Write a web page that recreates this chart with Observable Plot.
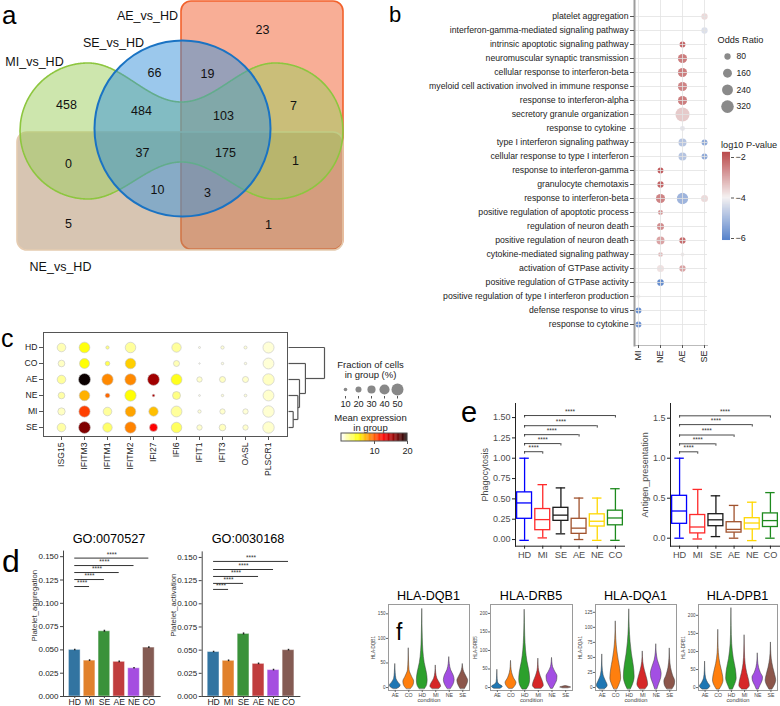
<!DOCTYPE html>
<html><head><meta charset="utf-8">
<script src="https://cdn.jsdelivr.net/npm/d3@7"></script>
<script src="https://cdn.jsdelivr.net/npm/@observablehq/plot@0.6"></script>
<style>
body{margin:0;background:#fff;}
#root{position:relative;width:780px;height:706px;overflow:hidden;background:#fff;font-family:"Liberation Sans",Arial,Helvetica,sans-serif;}
</style></head><body><div id="root"></div>
<script>
// ---------------- DATA ----------------
// a: Venn
const vennSets = ["AE_vs_HD","SE_vs_HD","MI_vs_HD","NE_vs_HD"];
const vennCounts = [23,458,66,19,484,103,7,0,37,175,1,10,3,5,1];
// b: GO enrichment dot plot
const bTerms = ["platelet aggregation","interferon-gamma-mediated signaling pathway","intrinsic apoptotic signaling pathway","neuromuscular synaptic transmission","cellular response to interferon-beta","myeloid cell activation involved in immune response","response to interferon-alpha","secretory granule organization","response to cytokine ","type I interferon signaling pathway","cellular response to type I interferon","response to interferon-gamma","granulocyte chemotaxis","response to interferon-beta","positive regulation of apoptotic process","regulation of neuron death","positive regulation of neuron death","cytokine-mediated signaling pathway","activation of GTPase activity","positive regulation of GTPase activity","positive regulation of type I interferon production","defense response to virus","response to cytokine"];
const bCols = ["MI","NE","AE","SE"];
const bDotRow = [0,1,2,3,4,5,6,7,8,9,9,10,10,11,12,13,13,13,14,15,16,16,17,17,18,18,19,20,21,22];
const bDotCol = ["SE","SE","AE","AE","AE","AE","AE","AE","AE","AE","SE","AE","SE","NE","NE","NE","AE","SE","NE","NE","NE","AE","NE","AE","NE","AE","NE","MI","MI","MI"];
const bDotOddsRatio = [80,80,70,170,170,170,170,400,50,130,70,130,70,70,80,170,260,100,50,100,130,80,45,30,100,80,90,30,70,70];
const bDotLog10P = [-3.7,-4.3,-2.2,-2.5,-2.5,-2.6,-2.5,-3.5,-4.2,-4.8,-5.3,-4.8,-5.3,-2.1,-2.2,-2.6,-5.1,-3.7,-2.8,-2.7,-3.0,-2.3,-3.3,-3.9,-3.8,-3.0,-5.8,-4.0,-5.8,-5.7];
const bOddsLegend = [80,160,240,320];
// c: gene dot plot
const cGroups = ["HD","CO","AE","NE","MI","SE"];
const cGenes = ["ISG15","IFITM3","IFITM1","IFITM2","IFI27","IFI6","IFIT1","IFIT3","OASL","PLSCR1"];
const cFraction = [
  [32,43,9,42,0,36,4.5,9,8,45],
  [23,39,14,42,0,20,3,6,6,44],
  [32,50,46,46,49,44,17,20,20,47],
  [23,42,14,46,6,29,4,6,7,44],
  [26,46,32,42,36,44,9,17,17,47],
  [32,49,36,46,29,42,17,23,17,47]];
const cExpression = [
  [1.5,4.8,2.5,2.0,0,2.0,0.5,0.8,0.8,0.8],
  [1.2,5.0,3.5,6.5,0,1.5,0.3,0.6,0.6,0.8],
  [2.0,20,8.6,8.6,15.5,4.5,1.0,1.2,1.0,1.2],
  [1.8,7.4,9.6,5.0,15,2.5,0.4,0.8,0.8,1.0],
  [1.2,10.8,2.0,7.8,7.0,2.0,0.8,1.0,0.8,0.9],
  [1.8,16.5,3.0,8.8,12.7,3.2,1.0,1.3,1.0,1.0]];
const cDendroMerges = [["MI","SE",0.26],["NE",0,0.52],["AE",1,0.61],["CO",2,0.94],["HD",3,2.0]];
const cSizeLegend = [10,20,30,40,50];
const cColorTicks = [10,20];
// d: bar plots
const dGroups = ["HD","MI","SE","AE","NE","CO"];
const dAggregation = [0.0500,0.0385,0.0700,0.0372,0.0303,0.0525];
const dAggregationErr = [0.0008,0.0009,0.0011,0.0009,0.0009,0.0009];
const dActivation = [0.0480,0.0385,0.0675,0.0352,0.0285,0.0500];
const dActivationErr = [0.0008,0.0009,0.0011,0.0009,0.0009,0.0009];
const dAggregationSig = [0.1180,0.1255,0.1330,0.1405,0.1485];
const dActivationSig = [0.1155,0.1220,0.1295,0.1370,0.1457];
const dTicks = [0,0.025,0.05,0.075,0.1,0.125,0.15];
// e: box plots
const eGroups = ["HD","MI","SE","AE","NE","CO"];
const ePhagoLow  = [-0.01,0.02,0.07,0.00,-0.01,-0.01];
const ePhagoQ1   = [0.255,0.115,0.23,0.07,0.16,0.175];
const ePhagoMed  = [0.45,0.245,0.30,0.14,0.225,0.265];
const ePhagoQ3   = [0.58,0.375,0.39,0.255,0.31,0.355];
const ePhagoHigh = [1.00,0.675,0.635,0.51,0.51,0.625];
const eAntiLow  = [0.00,-0.01,0.02,0.00,-0.03,0.00];
const eAntiQ1   = [0.18,0.06,0.15,0.07,0.11,0.14];
const eAntiMed  = [0.34,0.14,0.23,0.11,0.19,0.22];
const eAntiQ3   = [0.53,0.29,0.30,0.20,0.25,0.31];
const eAntiHigh = [1.00,0.61,0.53,0.41,0.45,0.57];
const ePhagoSig = [1.08,1.18,1.29,1.40,1.525];
const eAntiSig = [1.08,1.18,1.29,1.42,1.53];
const ePhagoTicks = [0,0.25,0.5,0.75,1,1.25,1.5];
const eAntiTicks = [0,0.5,1,1.5];
// f: violins  ([value, relative half-width] profiles)
const fGenes = ["HLA-DQB1","HLA-DRB5","HLA-DQA1","HLA-DPB1"];
const fConds = ["AE","CO","HD","MI","NE","SE"];
const violinDQB1 = [
 [[-3,0.3],[0,0.8],[4,1],[10,0.6],[18,0.2],[30,0.08],[48,0]],
 [[-3,0.4],[5,0.9],[12,1],[22,0.6],[35,0.15],[55,0.05],[80,0]],
 [[-3,0.5],[5,0.9],[15,1],[30,0.85],[50,0.45],[75,0.2],[100,0.1],[130,0.04],[160,0]],
 [[-3,0.6],[2,1],[8,0.8],[18,0.3],[30,0.08],[45,0]],
 [[-3,0.3],[5,0.75],[15,1],[25,0.8],[35,0.35],[48,0.1],[62,0]],
 [[-3,0.4],[5,0.8],[14,1],[22,0.7],[32,0.25],[40,0.08],[48,0]]];
const violinDRB5 = [
 [[-3,0.6],[2,1],[8,0.4],[15,0.12],[30,0.04],[48,0]],
 [[-3,0.4],[4,0.8],[12,1],[25,0.55],[40,0.2],[55,0.06],[72,0]],
 [[-5,0.4],[5,0.8],[20,1],[40,0.9],[70,0.5],[100,0.25],[140,0.1],[175,0.04],[210,0]],
 [[-3,0.6],[5,1],[15,0.85],[30,0.45],[45,0.15],[60,0.05],[78,0]],
 [[-3,0.2],[5,0.5],[20,0.95],[30,1],[42,0.6],[55,0.2],[68,0.06],[80,0]],
 [[-2,0.5],[0,1],[2,0.6],[4,0]]];
const violinDQA1 = [
 [[-3,0.5],[3,1],[10,0.7],[20,0.25],[35,0.06],[55,0]],
 [[-3,0.3],[5,0.7],[15,1],[30,0.85],[45,0.55],[60,0.3],[80,0.1],[110,0]],
 [[-3,0.3],[5,0.7],[18,1],[35,0.85],[55,0.5],[75,0.25],[100,0.08],[130,0]],
 [[-3,0.5],[5,1],[15,0.8],[28,0.4],[42,0.1],[60,0]],
 [[-3,0.2],[5,0.5],[15,0.9],[23,1],[33,0.75],[45,0.3],[58,0.08],[72,0]],
 [[-3,0.5],[5,0.95],[10,1],[20,0.6],[32,0.25],[48,0.06],[65,0]]];
const violinDPB1 = [
 [[-5,0.5],[3,1],[12,0.6],[25,0.2],[45,0.05],[72,0]],
 [[-5,0.3],[5,0.7],[20,1],[40,0.8],[65,0.4],[95,0.12],[125,0.04],[160,0]],
 [[-5,0.3],[5,0.6],[25,1],[50,0.85],[80,0.45],[120,0.15],[170,0.04],[220,0]],
 [[-5,0.5],[5,1],[20,0.85],[40,0.5],[65,0.2],[100,0.06],[145,0]],
 [[-5,0.2],[5,0.5],[20,0.95],[28,1],[40,0.6],[55,0.25],[75,0.06],[95,0]],
 [[-5,0.3],[5,0.7],[20,1],[35,0.8],[55,0.45],[80,0.15],[105,0.04],[125,0]]];
const fTicksDQB1 = [0,50,100,150], fTicksDRB5 = [0,50,100,150,200], fTicksDQA1 = [0,25,50,75,100,125], fTicksDPB1 = [0,50,100,150,200];

// ---------------- STYLE / LAYOUT ----------------
const FONT = "'Liberation Sans', Arial, Helvetica, sans-serif";
const root = document.getElementById("root");
function put(svg, left, top) {
  Object.assign(svg.style, {position:"absolute", left:left+"px", top:top+"px", overflow:"visible", background:"transparent", maxWidth:"none"});
  root.appendChild(svg); return svg;
}
function txt(s, x, y, size, anchor="start", color="#000") {
  const d = document.createElement("div");
  d.textContent = s;
  Object.assign(d.style, {position:"absolute", left:x+"px", top:(y-0.8465*size)+"px", fontSize:size+"px", lineHeight:"1", whiteSpace:"nowrap", color, fontFamily:FONT});
  if (anchor === "middle") d.style.transform = "translateX(-50%)";
  if (anchor === "end") d.style.transform = "translateX(-100%)";
  root.appendChild(d);
}
const base = {style:{fontFamily:FONT, background:"transparent", overflow:"visible", color:"#222"}};
const px = (w, h) => ({x:{domain:[0,w], range:[0,w], axis:null}, y:{domain:[0,h], range:[0,h], axis:null}});

// ---------------- PANEL a ----------------
const vennAE = {x1:181, x2:343, y1:1, y2:249};
const vennNE = {x1:17, x2:343, y1:132, y2:250};
const vennSE = {cx:182, cy:128, r:88};
const lobeMI = {cxL:88, cxR:275, cy:131, r:68, waistTop:102, waistBot:162};
const vennCountPos = [[262,29],[66,104],[154,72],[207,73],[141,110],[223,115],[293,105],[68,163],[142,152],[225,152],[295,160],[157,189],[207,192],[68,223],[268,224]];
const vennSetPos = [[147,15],[113,42],[34,61],[60,266]];
function miEdge(x) {
  const {cxL, cxR, cy, r, waistTop, waistBot} = lobeMI;
  if (x <= cxL || x >= cxR) {
    const c = x <= cxL ? cxL : cxR;
    const dy = Math.sqrt(Math.max(0, r*r - (x-c)*(x-c)));
    return {top: cy-dy, bot: cy+dy};
  }
  const s = Math.sin(Math.PI*(x-cxL)/(cxR-cxL))**2;
  return {top: cy - r + (waistTop-(cy-r))*s, bot: cy + r - ((cy+r)-waistBot)*s};
}
const miPts = [];
for (let x = lobeMI.cxL - lobeMI.r; x <= lobeMI.cxR + lobeMI.r + 1e-9; x += 0.5) miPts.push({x, ...miEdge(x)});
put(Plot.plot({...base, width:350, height:275, margin:0, ...px(350,275),
  marks:[
    Plot.rect([vennAE], {x1:"x1", x2:"x2", y1:"y1", y2:"y2", rx:10, fill:"#f36b3f", fillOpacity:0.55, stroke:"#f2622c", strokeWidth:1.6}),
    Plot.rect([vennNE], {x1:"x1", x2:"x2", y1:"y1", y2:"y2", rx:10, fill:"#b08c66", fillOpacity:0.5, stroke:"#e5cbb0", strokeWidth:1.6}),
    Plot.areaY(miPts, {x:"x", y1:"top", y2:"bot", fill:"#9ccd5c", fillOpacity:0.5, stroke:"#8dc63f", strokeWidth:1.6}),
    Plot.dot([vennSE], {x:"cx", y:"cy", r:vennSE.r, fill:"#3792da", fillOpacity:0.5, stroke:"#1a73c3", strokeWidth:2}),
    Plot.text(vennCounts, {x:(d,i)=>vennCountPos[i][0], y:(d,i)=>vennCountPos[i][1], text:d=>String(d), fontSize:12.5, fill:"#111"}),
    Plot.text(vennSets, {x:(d,i)=>vennSetPos[i][0], y:(d,i)=>vennSetPos[i][1], text:d=>d, fontSize:12.5, fill:"#111"})
  ]}), 0, 0);
txt("a", 2, 24, 26);

// ---------------- PANEL b ----------------
const bColor = {type:"linear", domain:[-6,-4,-2], range:["#3a6dc2","#f2eeee","#b3383a"]};
const bR = {domain:[0,320], range:[0,6.3]};
const bDots = bDotRow.map((r,i) => ({row:r, col:bDotCol[i], or:bDotOddsRatio[i], p:bDotLog10P[i]}));
put(Plot.plot({...base, width:400, height:370, marginLeft:254, marginRight:73, marginTop:0, marginBottom:25,
  x:{type:"point", domain:bCols, range:[258,324], padding:0},
  y:{type:"point", domain:d3.range(bTerms.length), range:[9.3,330.5], padding:0},
  r:bR, color:bColor,
  marks:[
    Plot.dot(bDots, {x:"col", y:"row", r:"or", fill:"p", fillOpacity:0.85}),
    Plot.ruleY(d3.range(bTerms.length), {y:d=>d, stroke:"#e2e2e2", strokeOpacity:0.8}),
    Plot.ruleX(bCols, {x:d=>d, stroke:"#e2e2e2", strokeOpacity:0.8}),
    Plot.frame({anchor:"bottom", stroke:"#bbb"}),
    Plot.frame({anchor:"left", stroke:"#9d9d9d", strokeWidth:2}),
    Plot.axisY({tickSize:4, tickPadding:2, fontSize:8.7, tickFormat:i=>bTerms[i], stroke:"#555", label:null}),
    Plot.axisX({tickRotate:-90, tickSize:3, tickPadding:2, fontSize:9, stroke:"#555", label:null})
  ]}), 380, 0);
txt("b", 389, 23, 22);
put(Plot.plot({...base, width:80, height:90, margin:0, ...px(80,90), r:bR,
  marks:[
    Plot.text(["Odds Ratio"], {x:17, y:10, text:d=>d, textAnchor:"start", fontSize:9.2, fill:"#222"}),
    Plot.dot(bOddsLegend, {x:27, y:(d,i)=>26+16.7*i, r:d=>d, fill:"#8a8a8a"}),
    Plot.text(bOddsLegend, {x:36, y:(d,i)=>26+16.7*i, text:d=>String(d), textAnchor:"start", fontSize:8.6, fill:"#222"})
  ]}), 700, 30);
txt("log10 P-value", 721, 149, 9.2, "start", "#222");
put(Plot.plot({...base, width:80, height:110, marginLeft:22, marginRight:50, marginTop:0, marginBottom:0,
  x:{domain:[0,1], range:[22,30], axis:null},
  y:{domain:[-6,-2], range:[98,17]},
  color:bColor,
  marks:[
    Plot.rect(d3.range(-6.1,-1.75,0.025), {x1:0, x2:1, y1:d=>d, y2:d=>d+0.03, fill:d=>d}),
    Plot.axisY({anchor:"right", ticks:[-6,-4,-2], tickSize:3, tickPadding:2, fontSize:9, tickFormat:d=>"\u2212"+Math.abs(d), stroke:"#555", label:null})
  ]}), 700, 140);

// ---------------- PANEL c ----------------
function hotR(t) {
  const u = 1 - Math.max(0, Math.min(1, t));
  const r = Math.min(1, 0.0416 + u/0.365*(1-0.0416));
  const g = Math.max(0, Math.min(1, (u-0.365)/0.381));
  const b = Math.max(0, Math.min(1, (u-0.746)/0.254));
  return d3.rgb(r*255, g*255, b*255).formatHex();
}
const cR = {type:"pow", exponent:0.75, domain:[0,50], range:[0,6]};
const cColor = {type:"linear", domain:[0,20], interpolate:hotR};
const cCells = [];
cGroups.forEach((g,si) => cGenes.forEach((gn,gi) => { if (cFraction[si][gi] > 0) cCells.push({s:si, g:gi, frac:cFraction[si][gi], expr:cExpression[si][gi]}); }));
put(Plot.plot({...base, width:300, height:165, marginLeft:43, marginRight:13, marginTop:7, marginBottom:54,
  x:{domain:[0,9], range:[61,268]}, y:{domain:[0,5], range:[22,102]},
  r:cR, color:cColor,
  marks:[
    Plot.frame({stroke:"#555"}),
    Plot.dot(cCells, {x:"g", y:"s", r:"frac", fill:"expr", stroke:"#c4c4c4", strokeWidth:0.6}),
    Plot.axisY({ticks:d3.range(6), tickFormat:i=>cGroups[i], tickSize:4, tickPadding:2, fontSize:8.6, stroke:"#555", label:null}),
    Plot.axisX({ticks:d3.range(10), tickFormat:i=>cGenes[i], tickRotate:-90, tickSize:4, tickPadding:2, fontSize:8.6, stroke:"#555", label:null})
  ]}), 0, 325);
txt("c", 1, 347, 25);
// dendrogram
const cNodes = {};
cGroups.forEach((g,i) => cNodes[g] = {y:i, h:0});
const cLinks = [];
cDendroMerges.forEach(([a,b,h],k) => {
  const A = typeof a === "number" ? cNodes["m"+a] : cNodes[a];
  const B = typeof b === "number" ? cNodes["m"+b] : cNodes[b];
  cLinks.push({x1:A.h, y1:A.y, x2:h, y2:A.y}, {x1:B.h, y1:B.y, x2:h, y2:B.y}, {x1:h, y1:A.y, x2:h, y2:B.y});
  cNodes["m"+k] = {y:(A.y+B.y)/2, h};
});
put(Plot.plot({...base, width:45, height:165, margin:0,
  x:{domain:[0,2], range:[1,37], axis:null}, y:{domain:[0,5], range:[22,102], axis:null},
  marks:[Plot.link(cLinks, {x1:"x1", y1:"y1", x2:"x2", y2:"y2", stroke:"#555", strokeWidth:1.2})]}), 287, 325);
// c legends
put(Plot.plot({...base, width:90, height:110, margin:0, ...px(90,110), r:cR, color:cColor,
  marks:[
    Plot.text(["Fraction of cells","in group (%)"], {x:40, y:(d,i)=>9+10.5*i, text:d=>d, fontSize:9.5, fill:"#222"}),
    Plot.dot(cSizeLegend, {x:(d,i)=>15+13*i, y:34, r:d=>d, fill:"#888"}),
    Plot.ruleX(cSizeLegend, {x:(d,i)=>15+13*i, y1:41, y2:43.5, stroke:"#555"}),
    Plot.text(cSizeLegend, {x:(d,i)=>15+13*i, y:49, text:d=>String(d), fontSize:9.2, fill:"#222"}),
    Plot.text(["Mean expression","in group"], {x:40, y:(d,i)=>62+10.5*i, text:d=>d, fontSize:9.5, fill:"#222"}),
    Plot.rect(d3.range(0,20,0.25), {x1:d=>11+d*3.3, x2:d=>11+(d+0.3)*3.3, y1:78, y2:86, fill:d=>d}),
    Plot.rect([0], {x1:11, x2:77, y1:78, y2:86, stroke:"#555", fill:"none"}),
    Plot.ruleX(cColorTicks, {x:d=>11+d*3.3, y1:86, y2:89, stroke:"#555"}),
    Plot.text(cColorTicks, {x:d=>11+d*3.3, y:96, text:d=>String(d), fontSize:9.2, fill:"#222"})
  ]}), 330, 355);

// ---------------- PANEL d ----------------
const dColors = ["#3274a1","#e1812c","#3a923a","#c03d3e","#a54ee0","#845b53"];
function barPanel(vals, errs, sig, ylabel, left, xRange, pxPerUnit, labelValue) {
  const y0 = 171;
  const step = (xRange[1]-xRange[0])/6.52;
  put(Plot.plot({...base, width:165, height:181, marginLeft:xRange[0], marginRight:165-xRange[1], marginTop:y0-0.156*pxPerUnit, marginBottom:181-y0,
    x:{domain:[-0.76,5.76], range:xRange},
    y:{domain:[0,0.156], range:[y0, y0-0.156*pxPerUnit]},
    color:{type:"identity"},
    marks:[
      Plot.rect(dGroups, {x1:(d,i)=>i-0.394, x2:(d,i)=>i+0.394, y1:0, y2:(d,i)=>vals[i], fill:(d,i)=>dColors[i], stroke:"white", strokeOpacity:0.45, strokeWidth:1}),
      Plot.ruleX(dGroups, {x:(d,i)=>i, y1:(d,i)=>vals[i]-errs[i], y2:(d,i)=>vals[i]+errs[i], stroke:"#222", strokeWidth:1.5}),
      Plot.ruleY(sig, {y:d=>d, x1:0, x2:(d,i)=>i+1, stroke:"#333", strokeWidth:1}),
      Plot.text(sig, {x:(d,i)=>(i+1)/2, y:d=>d, dy:-3.5, text:()=>"****", fontSize:6.5, fill:"#333"}),
      Plot.frame({anchor:"left", stroke:"#444"}),
      Plot.frame({anchor:"bottom", stroke:"#444"}),
      Plot.axisY({ticks:dTicks, tickFormat:".3f", tickSize:3, tickPadding:2, fontSize:8, stroke:"#444", label:null}),
      Plot.axisX({ticks:d3.range(6), tickFormat:i=>dGroups[i], tickSize:2, tickPadding:0, fontSize:8.6, stroke:"#444", label:null}),
      Plot.text([ylabel], {x:-0.76 - 29/step, y:labelValue, text:d=>d, rotate:-90, fontSize:7.8, fill:"#333"})
    ]}), left, 525);
}
barPanel(dAggregation, dAggregationErr, dAggregationSig, "Platelet_aggregation", 0, [63,159.6], 932, 0.0975);
barPanel(dActivation, dActivationErr, dActivationSig, "Platelet_activation", 140, [61.7,159.4], 927, 0.0985);
txt("GO:0070527", 109, 543.5, 12.7, "middle");
txt("GO:0030168", 248, 543.5, 12.7, "middle");
txt("d", 2, 572, 32);

// ---------------- PANEL e ----------------
const eColors = ["#0000ff","#ff2a2a","#1a1a1a","#a0522d","#ffd700","#1e8a1e"];
function boxPanel(low,q1,med,q3,high,sig,ticks,fmt,ylabel,left,width,marginLeft,yDomain,labelOffset) {
  const bw = 0.41, cw = 0.26;
  const rows = eGroups.map((g,i) => ({i, low:low[i], q1:q1[i], med:med[i], q3:q3[i], high:high[i], c:eColors[i]}));
  put(Plot.plot({...base, width, height:175, marginLeft, marginRight:width-marginLeft-109, marginTop:13, marginBottom:19.3,
    x:{domain:[-0.5,5.5]}, y:{domain:yDomain}, color:{type:"identity"},
    marks:[
      Plot.ruleX(rows, {x:"i", y1:"low", y2:"q1", stroke:"c", strokeWidth:1.3}),
      Plot.ruleX(rows, {x:"i", y1:"q3", y2:"high", stroke:"c", strokeWidth:1.3}),
      Plot.ruleY(rows, {y:"low", x1:d=>d.i-cw, x2:d=>d.i+cw, stroke:"c", strokeWidth:1.3}),
      Plot.ruleY(rows, {y:"high", x1:d=>d.i-cw, x2:d=>d.i+cw, stroke:"c", strokeWidth:1.3}),
      Plot.rect(rows, {x1:d=>d.i-bw, x2:d=>d.i+bw, y1:"q1", y2:"q3", fill:"white", stroke:"c", strokeWidth:1.3}),
      Plot.ruleY(rows, {y:"med", x1:d=>d.i-bw, x2:d=>d.i+bw, stroke:"c", strokeWidth:1.3}),
      Plot.ruleY(sig, {y:d=>d, x1:0, x2:(d,i)=>i+1, stroke:"#333", strokeWidth:0.9}),
      Plot.ruleX(sig, {x:0, y1:d=>d-0.03, y2:d=>d, stroke:"#333", strokeWidth:0.9}),
      Plot.ruleX(sig, {x:(d,i)=>i+1, y1:d=>d-0.03, y2:d=>d, stroke:"#333", strokeWidth:0.9}),
      Plot.text(sig, {x:(d,i)=>(i+1)/2, y:d=>d, dy:-4, text:()=>"****", fontSize:6.5, fill:"#333"}),
      Plot.frame({anchor:"left", stroke:"#222"}),
      Plot.frame({anchor:"bottom", stroke:"#222"}),
      Plot.axisY({ticks, tickFormat:fmt, tickSize:3, tickPadding:2, fontSize:9, stroke:"#222", color:"#4d4d4d", label:ylabel, labelAnchor:"center", labelArrow:"none", labelOffset}),
      Plot.axisX({ticks:d3.range(6), tickFormat:i=>eGroups[i], tickSize:3, tickPadding:2, fontSize:9.2, stroke:"#222", color:"#4d4d4d", label:null})
    ]}), left, 390);
}
boxPanel(ePhagoLow,ePhagoQ1,ePhagoMed,ePhagoQ3,ePhagoHigh,ePhagoSig,ePhagoTicks,".2f","Phagocytosis",460,170,55,[-0.082,1.673],34);
boxPanel(eAntiLow,eAntiQ1,eAntiMed,eAntiQ3,eAntiHigh,eAntiSig,eAntiTicks,".1f","Antigen_presentation",620,160,50,[-0.1,1.684],29);
txt("e", 461, 423, 29);

// ---------------- PANEL f ----------------
const fColors = ["#1f77b4","#ff7f0e","#2ca02c","#d62728","#a34fe3","#8c564b"];
function violinPanel(gene, profiles, frameL, frameR, yDomain, ticks) {
  const vd = profiles.flatMap((prof,i) => prof.map(([v,w]) => ({i, v, w})));
  const left = frameL - 28;
  put(Plot.plot({...base, width:frameR-frameL+32, height:116, marginLeft:28, marginRight:4, marginTop:14, marginBottom:16,
    x:{domain:[-0.5,5.5]}, y:{domain:yDomain}, color:{type:"identity"},
    marks:[
      Plot.areaX(vd, {z:"i", y:"v", x1:d=>d.i-0.4*d.w, x2:d=>d.i+0.4*d.w, fill:d=>fColors[d.i], stroke:"#3a3a3a", strokeWidth:0.5, curve:"monotone-y"}),
      Plot.frame({stroke:"#9a9a9a"}),
      Plot.axisY({ticks, tickSize:2, tickPadding:1, fontSize:4.6, stroke:"#666", color:"#444", label:gene, labelAnchor:"center", labelArrow:"none", labelOffset:17}),
      Plot.axisX({ticks:d3.range(6), tickFormat:i=>fConds[i], tickSize:2, tickPadding:1, fontSize:5.2, stroke:"#666", color:"#444", label:null}),
      Plot.text(["condition"], {frameAnchor:"bottom", dy:11.5, text:d=>d, fontSize:5.8, fill:"#444"})
    ]}), left, 590);
  txt(gene, (frameL+frameR)/2, 600.5, 12.6, "middle");
}
violinPanel(fGenes[0], violinDQB1, 388, 469, [-6,169], fTicksDQB1);
violinPanel(fGenes[1], violinDRB5, 490, 572, [-8,224], fTicksDRB5);
violinPanel(fGenes[2], violinDQA1, 595, 676, [-5,138], fTicksDQA1);
violinPanel(fGenes[3], violinDPB1, 698, 777, [-8,230], fTicksDPB1);
txt("f", 396, 640, 23);
</script></body></html>
